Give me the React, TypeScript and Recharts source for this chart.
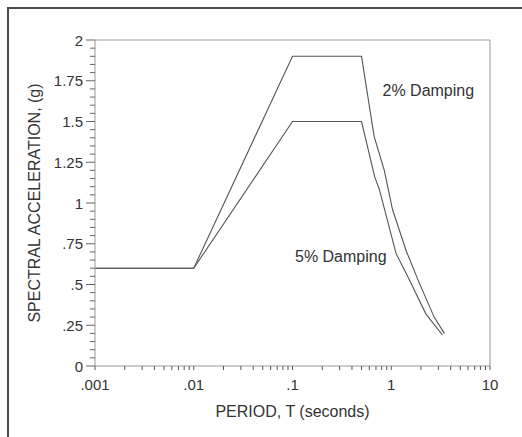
import React from "react";
import { LineChart, Line, XAxis, YAxis, ReferenceLine, ReferenceDot } from "recharts";

// Response spectra (period in seconds, acceleration in g)
const period2 = [0.001, 0.01, 0.1, 0.5, 0.67, 0.85, 1.03, 1.41, 1.92, 2.72, 3.45];
const accel2 = [0.6, 0.6, 1.9, 1.9, 1.41, 1.2, 0.96, 0.71, 0.51, 0.3, 0.2];
const period5 = [0.001, 0.01, 0.1, 0.5, 0.68, 0.76, 1.12, 1.52, 2.24, 3.3];
const accel5 = [0.6, 0.6, 1.5, 1.5, 1.16, 1.08, 0.69, 0.53, 0.32, 0.19];

const xMajor = [0.001, 0.01, 0.1, 1, 10];
const xMajorLabels = [".001", ".01", ".1", "1", "10"];
const yMajor = [0, 0.25, 0.5, 0.75, 1, 1.25, 1.5, 1.75, 2];
const yMajorLabels = ["0", ".25", ".5", ".75", "1", "1.25", "1.5", "1.75", "2"];

// annotation text, anchored at its left baseline in data units
const noteText = ["2% Damping", "5% Damping"];
const noteT = [0.816, 0.106];
const noteSa = [1.656, 0.64];

const series2 = period2.map((t, i) => ({ t, sa: accel2[i] }));
const series5 = period5.map((t, i) => ({ t, sa: accel5[i] }));

// minor ticks: 1..9 in every decade, every .05 g on y
const xTicks: number[] = [];
xMajor.slice(0, -1).forEach((d) => {
  for (let k = 1; k < 10; k++) xTicks.push(parseFloat((d * k).toPrecision(3)));
});
xTicks.push(10);
const yTicks: number[] = [];
for (let i = 0; i <= 40; i++) yTicks.push(Math.round(i * 5) / 100);

const FONT = "'Liberation Sans', Arial, sans-serif";
const TXT = "#333";

const XTick = ({ x, y, payload }: any) => {
  const idx = xMajor.indexOf(payload.value);
  return (
    <g>
      <line x1={x} x2={x} y1={y} y2={y + 4} stroke="#555" />
      {idx >= 0 && (
        <text x={x} y={y + 24} textAnchor="middle" fontSize={15} fontFamily={FONT} fill={TXT}>
          {xMajorLabels[idx]}
        </text>
      )}
    </g>
  );
};

const YTick = ({ x, y, payload }: any) => {
  const idx = yMajor.indexOf(payload.value);
  return (
    <g>
      <line x1={x} x2={x - (idx >= 0 ? 9 : 5)} y1={y} y2={y} stroke="#666" />
      {idx >= 0 && (
        <text x={x - 12} y={y + 5.5} textAnchor="end" fontSize={15} fontFamily={FONT} fill={TXT}>
          {yMajorLabels[idx]}
        </text>
      )}
    </g>
  );
};

const Note = (text: string) => ({ viewBox }: any) => (
  <text
    x={viewBox.x + viewBox.width / 2}
    y={viewBox.y + viewBox.height / 2}
    fontSize={16}
    fontFamily={FONT}
    fill={TXT}
  >
    {text}
  </text>
);

export default function App() {
  return (
    <div style={{ position: "absolute", left: 0, top: 0, width: 522, height: 437, overflow: "hidden", background: "#fff" }}>
      <div
        style={{
          position: "absolute",
          left: 7,
          top: 7,
          width: 515,
          height: 430,
          borderTop: "2px solid #4a4a4a",
          borderLeft: "2px solid #4a4a4a",
          boxSizing: "border-box",
        }}
      />
      <div style={{ position: "absolute", left: 0, top: 0 }}>
        <LineChart width={522} height={437} margin={{ top: 40, right: 32, bottom: 0, left: 0 }}>
          <XAxis
            dataKey="t"
            type="number"
            scale="log"
            domain={[0.001, 10]}
            allowDataOverflow
            ticks={xTicks}
            interval={0}
            tickSize={0}
            tickMargin={0}
            tickLine={false}
            tick={<XTick />}
            height={71}
            axisLine={{ stroke: "#999" }}
            label={{
              content: ({ viewBox }: any) => (
                <text
                  x={viewBox.x + viewBox.width / 2}
                  y={viewBox.y + 51}
                  textAnchor="middle"
                  fontSize={16}
                  fontFamily={FONT}
                  fill={TXT}
                >
                  PERIOD, T (seconds)
                </text>
              ),
            }}
          />
          <YAxis
            dataKey="sa"
            type="number"
            domain={[0, 2]}
            ticks={yTicks}
            interval={0}
            tickSize={0}
            tickMargin={0}
            tickLine={false}
            tick={<YTick />}
            width={95}
            axisLine={{ stroke: "#999" }}
            label={{
              content: ({ viewBox }: any) => {
                const cx = 39.5;
                const cy = viewBox.y + viewBox.height / 2;
                return (
                  <text
                    x={cx}
                    y={cy}
                    transform={`rotate(-90 ${cx} ${cy})`}
                    textAnchor="middle"
                    fontSize={16}
                    fontFamily={FONT}
                    fill={TXT}
                  >
                    SPECTRAL ACCELERATION, (g)
                  </text>
                );
              },
            }}
          />
          <ReferenceLine y={2} stroke="#999" />
          <ReferenceLine x={10} stroke="#999" />
          <Line
            data={series2}
            dataKey="sa"
            type="linear"
            stroke="#555"
            strokeWidth={1.1}
            dot={false}
            isAnimationActive={false}
          />
          <Line
            data={series5}
            dataKey="sa"
            type="linear"
            stroke="#555"
            strokeWidth={1.1}
            dot={false}
            isAnimationActive={false}
          />
          {noteText.map((n, i) => (
            <ReferenceDot
              key={n}
              x={noteT[i]}
              y={noteSa[i]}
              r={1}
              fill="none"
              stroke="none"
              label={{ content: Note(n) }}
            />
          ))}
        </LineChart>
      </div>
    </div>
  );
}
